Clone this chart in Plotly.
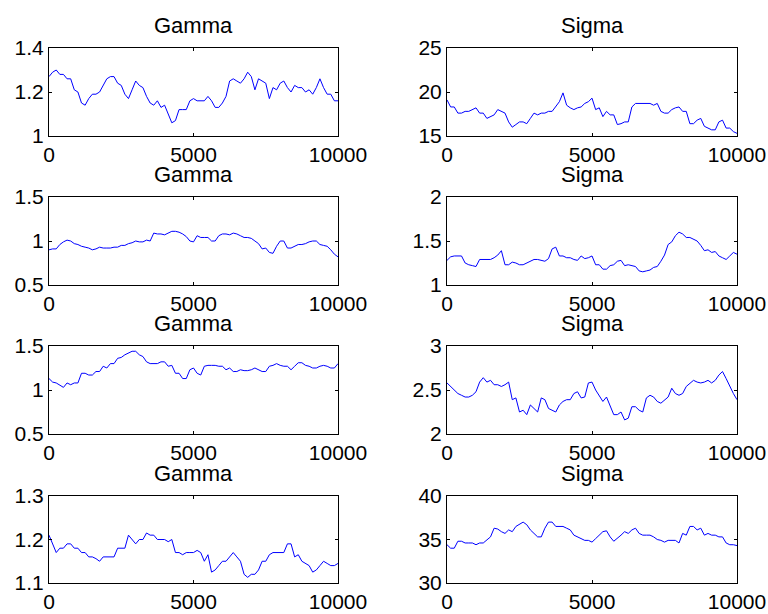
import plotly.graph_objects as go

# MCMC iteration index: values on the 250-step grid, plus the draws halfway between
iterations = list(range(0, 10001, 125))

gamma_1 = [1.27, 1.30, 1.28, 1.26, 1.20, 1.14, 1.19, 1.20, 1.26, 1.27, 1.23,
           1.17, 1.25, 1.22, 1.15, 1.16, 1.14, 1.06, 1.12, 1.12, 1.17, 1.16,
           1.18, 1.13, 1.15, 1.25, 1.25, 1.26, 1.27, 1.26, 1.24, 1.22, 1.24,
           1.22, 1.23, 1.22, 1.21, 1.22, 1.22, 1.19, 1.16]
gamma_1_mid = [1.29, 1.28, 1.26, 1.21, 1.15, 1.17, 1.19, 1.23, 1.27, 1.24,
               1.19, 1.21, 1.23, 1.18, 1.14, 1.13, 1.10, 1.07, 1.12, 1.16,
               1.16, 1.16, 1.16, 1.13, 1.18, 1.26, 1.24, 1.29, 1.21, 1.25,
               1.17, 1.21, 1.25, 1.20, 1.22, 1.20, 1.19, 1.26, 1.19, 1.16]
sigma_1 = [19.1, 18.3, 17.6, 17.8, 18.2, 17.6, 17.2, 18.0, 17.6, 16.0, 16.6,
           16.4, 17.6, 17.6, 17.8, 18.3, 19.9, 18.2, 18.2, 18.7, 19.3, 18.2,
           17.8, 17.4, 16.4, 16.6, 18.7, 18.7, 18.7, 18.7, 17.6, 18.0, 18.3,
           17.8, 16.4, 17.0, 15.9, 15.7, 16.8, 15.9, 15.3]
sigma_1_mid = [18.3, 17.6, 17.8, 18.0, 17.6, 17.0, 17.4, 17.8, 16.6, 16.3,
               16.6, 17.0, 17.4, 17.6, 17.8, 18.9, 18.5, 18.0, 18.3, 18.9,
               18.0, 17.2, 17.4, 16.3, 16.6, 18.3, 18.7, 18.7, 18.5, 17.8,
               17.6, 18.2, 17.8, 16.4, 16.8, 16.1, 15.7, 16.6, 15.9, 15.5]
gamma_2 = [0.90, 0.91, 0.99, 1.00, 0.96, 0.93, 0.90, 0.93, 0.92, 0.93, 0.95,
           0.97, 1.00, 0.99, 1.00, 1.08, 1.07, 1.11, 1.10, 1.05, 0.99, 1.04,
           1.04, 1.00, 1.08, 1.07, 1.08, 1.04, 1.03, 0.97, 0.92, 0.86, 1.00,
           0.92, 0.94, 0.96, 0.99, 1.00, 0.95, 0.90, 0.82]
gamma_2_mid = [0.91, 0.96, 1.01, 0.97, 0.94, 0.92, 0.91, 0.92, 0.92, 0.93,
               0.95, 0.98, 0.99, 1.01, 1.09, 1.08, 1.09, 1.11, 1.08, 1.00,
               1.06, 1.04, 1.00, 1.06, 1.08, 1.09, 1.06, 1.04, 1.00, 0.91,
               0.87, 0.94, 1.00, 0.92, 0.96, 0.97, 1.00, 0.96, 0.94, 0.85]
sigma_2 = [1.28, 1.33, 1.33, 1.23, 1.21, 1.29, 1.29, 1.34, 1.23, 1.26, 1.23,
           1.25, 1.29, 1.28, 1.30, 1.43, 1.33, 1.31, 1.28, 1.30, 1.33, 1.23,
           1.18, 1.23, 1.28, 1.23, 1.21, 1.15, 1.17, 1.21, 1.34, 1.49, 1.60,
           1.54, 1.52, 1.45, 1.40, 1.38, 1.31, 1.33, 1.35]
sigma_2_mid = [1.32, 1.33, 1.25, 1.22, 1.29, 1.29, 1.31, 1.39, 1.23, 1.25,
               1.23, 1.27, 1.29, 1.27, 1.41, 1.33, 1.31, 1.29, 1.33, 1.31,
               1.23, 1.18, 1.22, 1.27, 1.22, 1.22, 1.16, 1.16, 1.20, 1.27,
               1.46, 1.56, 1.58, 1.54, 1.50, 1.39, 1.37, 1.33, 1.29, 1.37]
gamma_3 = [1.13, 1.08, 1.03, 1.06, 1.08, 1.19, 1.17, 1.21, 1.25, 1.30, 1.37,
           1.42, 1.44, 1.38, 1.30, 1.30, 1.32, 1.28, 1.19, 1.13, 1.25, 1.17,
           1.28, 1.28, 1.27, 1.25, 1.21, 1.22, 1.23, 1.23, 1.21, 1.28, 1.28,
           1.27, 1.27, 1.31, 1.27, 1.25, 1.28, 1.25, 1.30]
gamma_3_mid = [1.09, 1.05, 1.08, 1.08, 1.19, 1.17, 1.21, 1.27, 1.30, 1.36,
               1.40, 1.44, 1.40, 1.32, 1.30, 1.32, 1.27, 1.19, 1.13, 1.23,
               1.19, 1.27, 1.28, 1.27, 1.23, 1.21, 1.23, 1.22, 1.25, 1.21,
               1.27, 1.30, 1.27, 1.23, 1.31, 1.28, 1.25, 1.27, 1.27, 1.25]
sigma_3 = [2.58, 2.49, 2.44, 2.42, 2.48, 2.64, 2.61, 2.56, 2.56, 2.39, 2.25,
           2.22, 2.29, 2.41, 2.29, 2.25, 2.37, 2.39, 2.48, 2.42, 2.59, 2.44,
           2.42, 2.22, 2.25, 2.18, 2.31, 2.25, 2.44, 2.37, 2.39, 2.52, 2.44,
           2.54, 2.61, 2.58, 2.61, 2.61, 2.71, 2.54, 2.39]
sigma_3_mid = [2.54, 2.46, 2.42, 2.44, 2.59, 2.59, 2.56, 2.54, 2.59, 2.41,
               2.27, 2.33, 2.25, 2.39, 2.27, 2.33, 2.39, 2.46, 2.41, 2.58,
               2.50, 2.37, 2.31, 2.22, 2.16, 2.31, 2.27, 2.41, 2.42, 2.35,
               2.42, 2.46, 2.46, 2.58, 2.59, 2.59, 2.58, 2.67, 2.63, 2.46]
gamma_4 = [1.21, 1.17, 1.18, 1.19, 1.18, 1.17, 1.16, 1.15, 1.16, 1.16, 1.18,
           1.21, 1.19, 1.20, 1.21, 1.20, 1.20, 1.20, 1.17, 1.17, 1.17, 1.17,
           1.165, 1.13, 1.15, 1.16, 1.16, 1.12, 1.12, 1.13, 1.15, 1.17, 1.17,
           1.19, 1.16, 1.15, 1.14, 1.13, 1.15, 1.14, 1.145]
gamma_4_mid = [1.19, 1.18, 1.19, 1.18, 1.17, 1.16, 1.156, 1.16, 1.16, 1.18,
               1.18, 1.20, 1.20, 1.215, 1.21, 1.20, 1.195, 1.17, 1.165, 1.17,
               1.175, 1.15, 1.125, 1.14, 1.15, 1.17, 1.15, 1.113, 1.12, 1.15,
               1.165, 1.17, 1.17, 1.19, 1.165, 1.145, 1.125, 1.14, 1.145, 1.14]
sigma_4 = [34.4, 34.0, 34.8, 34.6, 34.4, 34.6, 35.3, 36.2, 35.7, 35.9, 36.8,
           36.7, 35.7, 35.3, 37.0, 36.5, 36.5, 36.1, 35.3, 34.9, 34.7, 35.5,
           36.0, 34.8, 35.5, 35.7, 36.3, 35.5, 35.5, 35.0, 34.7, 34.9, 34.6,
           35.5, 36.5, 36.3, 35.7, 35.5, 35.3, 34.4, 34.3]
sigma_4_mid = [34.0, 34.8, 34.6, 34.6, 34.6, 34.9, 36.3, 35.9, 36.1, 36.5,
               37.0, 36.1, 35.3, 36.3, 37.0, 36.5, 36.3, 35.5, 35.1, 34.9,
               35.1, 35.9, 35.3, 35.1, 35.9, 36.1, 35.7, 35.5, 35.3, 34.9,
               34.9, 34.9, 35.7, 36.5, 36.1, 35.5, 35.5, 35.3, 34.6, 34.4]


def weave(grid, mid):
    """Merge the 250-step values with the in-between draws, in iteration order."""
    out = []
    for g, m in zip(grid, mid):
        out += [g, m]
    out.append(grid[-1])
    return out


titles = ["Gamma", "Sigma"] * 4
series = [weave(gamma_1, gamma_1_mid), weave(sigma_1, sigma_1_mid),
          weave(gamma_2, gamma_2_mid), weave(sigma_2, sigma_2_mid),
          weave(gamma_3, gamma_3_mid), weave(sigma_3, sigma_3_mid),
          weave(gamma_4, gamma_4_mid), weave(sigma_4, sigma_4_mid)]
y_ticks = [[1, 1.2, 1.4], [15, 20, 25],
           [0.5, 1, 1.5], [1, 1.5, 2],
           [0.5, 1, 1.5], [2, 2.5, 3],
           [1.1, 1.2, 1.3], [30, 35, 40]]
x_ticks = [0, 5000, 10000]

W, H = 768, 614
col_px = [(49, 338), (447, 737)]
row_px = [(48, 136), (197, 285), (346, 434), (496, 583)]

FONT = "Liberation Sans, Arial, sans-serif"

fig = go.Figure()
layout = dict(
    width=W, height=H,
    margin=dict(l=0, r=0, t=0, b=0, pad=0),
    paper_bgcolor="white", plot_bgcolor="white",
    showlegend=False,
    font=dict(family=FONT, size=21, color="black"),
    annotations=[],
)

for k in range(8):
    r, c = divmod(k, 2)
    n = k + 1
    xa = "x" if n == 1 else f"x{n}"
    ya = "y" if n == 1 else f"y{n}"
    fig.add_trace(go.Scatter(
        x=iterations, y=series[k], xaxis=xa, yaxis=ya, mode="lines",
        line=dict(color="#0000ff", width=1),
    ))
    x0, x1 = col_px[c]
    y0, y1 = row_px[r]
    xdom = [x0 / W, x1 / W]
    ydom = [1 - y1 / H, 1 - y0 / H]
    yt = y_ticks[k]
    common = dict(showline=True, linecolor="black", linewidth=1, mirror="ticks",
                  ticks="inside", ticklen=3, tickcolor="black", tickwidth=1,
                  showgrid=False, zeroline=False, fixedrange=True,
                  automargin=False)
    layout[f"xaxis{n}"] = dict(
        domain=xdom, anchor=ya, range=[0, 10000], tickvals=x_ticks,
        ticktext=[str(v) for v in x_ticks], tickfont=dict(size=21), **common)
    layout[f"yaxis{n}"] = dict(
        domain=ydom, anchor=xa, range=[yt[0], yt[-1]], tickvals=yt,
        ticktext=[f"{v:g}" for v in yt], tickfont=dict(size=21), **common)
    layout["annotations"].append(dict(
        text=titles[k], xref="paper", yref="paper",
        x=(xdom[0] + xdom[1]) / 2, y=ydom[1], xanchor="center", yanchor="bottom",
        yshift=8, showarrow=False, font=dict(size=22, color="black"),
    ))

fig.update_layout(**layout)
fig.write_html("out.html")
